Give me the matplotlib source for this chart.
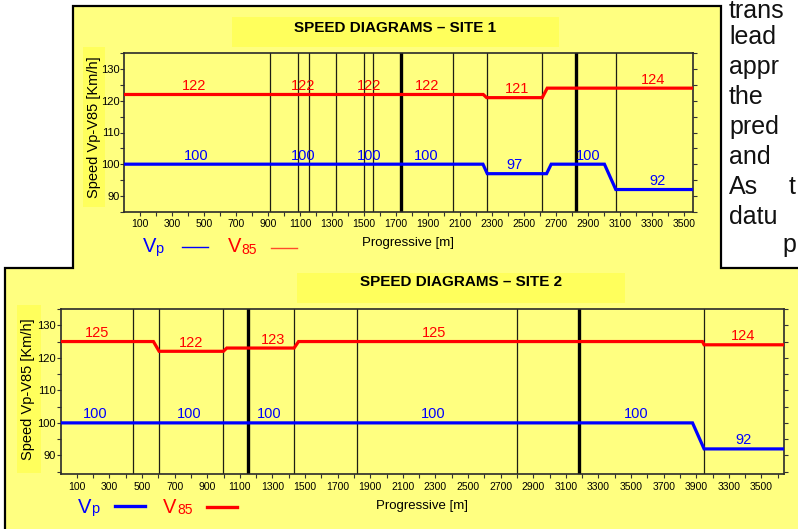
import matplotlib
matplotlib.use('Agg')
import matplotlib.pyplot as plt
from matplotlib.patches import Rectangle, Polygon
from matplotlib.lines import Line2D
from matplotlib.ticker import FixedLocator, MultipleLocator

# ---------------- data ----------------
# Site 1
s1_v85_x = [0, 2246, 2267, 2615, 2646, 3560]
s1_v85 = [122, 122, 121, 121, 124, 124]
s1_vp_x = [0, 2244, 2271, 2642, 2671, 3004, 3075, 3560]
s1_vp = [100, 100, 97, 97, 100, 100, 92, 92]
s1_thin = [912, 1087, 1156, 1327, 1500, 1556, 2059, 2271, 2615, 3075]
s1_thick = [1729, 2827]
s1_v85_lab_x = [437, 1121, 1531, 1896, 2459, 3306]
s1_v85_lab = [122, 122, 122, 122, 121, 124]
s1_vp_lab_x = [448, 1121, 1531, 1890, 2444, 2900, 3334]
s1_vp_lab = [100, 100, 100, 100, 97, 100, 92]
s1_xtick_pos = list(range(100, 3501, 200))
s1_xtick_lab = [str(v) for v in range(100, 3501, 200)]
s1_xlim = (0, 3560)
s1_ylim = (85, 135)

# Site 2
s2_v85_x = [0, 570, 605, 999, 1020, 1433, 1460, 3938, 3948, 4440]
s2_v85 = [125, 125, 122, 122, 123, 123, 125, 125, 124, 124]
s2_vp_x = [0, 3877, 3948, 4440]
s2_vp = [100, 100, 92, 92]
s2_thin = [447, 605, 999, 1435, 1821, 2799, 3948]
s2_thick = [1153, 3183]
s2_v85_lab_x = [223, 801, 1302, 2294, 4186]
s2_v85_lab = [125, 122, 123, 125, 124]
s2_vp_lab_x = [212, 789, 1280, 2288, 3531, 4190]
s2_vp_lab = [100, 100, 100, 100, 100, 92]
s2_xtick_pos = list(range(100, 4301, 200))
s2_xtick_lab = ['100', '300', '500', '700', '900', '1100', '1300', '1500', '1700',
                '1900', '2100', '2300', '2500', '2700', '2900', '3100', '3300',
                '3500', '3700', '3900', '3300', '3500']
s2_xlim = (0, 4440)
s2_ylim = (84.2, 135)

yticks = [90, 100, 110, 120, 130]
side_text = ["trans", "lead", "appr", "the", "pred", "and", "As", "datu"]

# ---------------- style ----------------
PANEL = '#FFFF80'
BOX = '#FFFF5C'
BLUE = '#0000FF'
RED = '#FF0000'

plt.rcParams['font.family'] = ['Liberation Sans', 'DejaVu Sans']

W, H = 798, 529
fig = plt.figure(figsize=(W / 100, H / 100), dpi=100)
fig.patch.set_facecolor('white')


def fx(x):
    return x / W


def fy(y):
    return 1 - y / H


# background panels (one outline for both)
panel = Polygon([[fx(73.3), fy(268)], [fx(73.3), fy(5.5)], [fx(720.7), fy(5.5)],
                 [fx(720.7), fy(267.5)], [fx(810), fy(267.5)], [fx(810), fy(540)],
                 [fx(5), fy(540)], [fx(5), fy(268)]], closed=True,
                transform=fig.transFigure, facecolor=PANEL, edgecolor='black',
                lw=1.6, zorder=-5)
fig.patches.append(panel)


def add_box(x0, y0, x1, y1):
    r = Rectangle((fx(x0), fy(y1)), (x1 - x0) / W, (y1 - y0) / H,
                  transform=fig.transFigure, facecolor=BOX, edgecolor='none',
                  zorder=-4)
    fig.patches.append(r)


def draw_site(ax, v85x, v85, vpx, vp, thin, thick, v85lx, v85l, vplx, vpl,
              xtp, xtl, xlim, ylim):
    ax.set_facecolor(PANEL)
    for x in thin:
        ax.axvline(x, color='#1e1e14', lw=0.9, zorder=1)
    for x in thick:
        ax.axvline(x, color='black', lw=2.4, zorder=1)
    ax.plot(v85x, v85, color=RED, lw=2.3, zorder=3, solid_joinstyle='miter')
    ax.plot(vpx, vp, color=BLUE, lw=2.3, zorder=3, solid_joinstyle='miter')
    for x, v in zip(v85lx, v85l):
        ax.text(x, v + 2.6, str(v), color=RED, fontsize=10.5, ha='center',
                va='center', zorder=4)
    for x, v in zip(vplx, vpl):
        ax.text(x, v + 2.6, str(v), color=BLUE, fontsize=10.5, ha='center',
                va='center', zorder=4)
    ax.set_xlim(*xlim)
    ax.set_ylim(*ylim)
    ax.set_xticks(xtp)
    ax.set_xticklabels(xtl, fontsize=7.5)
    minor = [v for v in range(200, int(xlim[1]) + 1, 200)]
    ax.xaxis.set_minor_locator(FixedLocator(minor))
    ax.set_yticks(yticks)
    ax.set_yticklabels([str(v) for v in yticks], fontsize=8)
    ax.yaxis.set_minor_locator(MultipleLocator(5))
    ax.tick_params(which='both', direction='out', length=3, width=0.8,
                   color='#333333', right=True, top=False)
    ax.tick_params(axis='x', which='both', pad=2.5)
    ax.tick_params(axis='y', which='both', pad=0.5)
    for s in ax.spines.values():
        s.set_color('#2a2a2a')
        s.set_linewidth(1.2)


ax1 = fig.add_axes([fx(124.3), fy(211.7), (693.3 - 124.3) / W, (211.7 - 53.3) / H])
draw_site(ax1, s1_v85_x, s1_v85, s1_vp_x, s1_vp, s1_thin, s1_thick,
          s1_v85_lab_x, s1_v85_lab, s1_vp_lab_x, s1_vp_lab,
          s1_xtick_pos, s1_xtick_lab, s1_xlim, s1_ylim)

ax2 = fig.add_axes([fx(60.5), fy(474.3), (784.3 - 60.5) / W, (474.3 - 309) / H])
draw_site(ax2, s2_v85_x, s2_v85, s2_vp_x, s2_vp, s2_thin, s2_thick,
          s2_v85_lab_x, s2_v85_lab, s2_vp_lab_x, s2_vp_lab,
          s2_xtick_pos, s2_xtick_lab, s2_xlim, s2_ylim)

# title boxes and titles
add_box(231.7, 16.7, 559.3, 46.7)
fig.text(fx(395.5), fy(28), 'SPEED DIAGRAMS – SITE 1', ha='center', va='center',
         fontsize=11, fontweight='bold')
add_box(296.7, 273, 625, 303)
fig.text(fx(461), fy(282.5), 'SPEED DIAGRAMS – SITE 2', ha='center', va='center',
         fontsize=11, fontweight='bold')

# y-label boxes and labels
add_box(83, 46.7, 105, 206.7)
fig.text(fx(94), fy(127), 'Speed Vp-V85 [Km/h]', rotation=90, ha='center',
         va='center', fontsize=10.5)
add_box(17.3, 305, 41, 472.7)
fig.text(fx(28.5), fy(389), 'Speed Vp-V85 [Km/h]', rotation=90, ha='center',
         va='center', fontsize=10.5)

# x labels
fig.text(fx(407.5), fy(243), 'Progressive [m]', ha='center', va='center', fontsize=9.5)
fig.text(fx(422), fy(506), 'Progressive [m]', ha='center', va='center', fontsize=9.5)


# legends
def legend(xv, yb, xp, xv2, x85, lx1, lx2, ly, lw, llen, redcol):
    fig.text(fx(xv), fy(yb), 'V', color=BLUE, fontsize=14.5, ha='left', va='baseline')
    fig.text(fx(xp), fy(yb + 0.8), 'p', color=BLUE, fontsize=10.5, ha='left', va='baseline')
    fig.add_artist(Line2D([fx(lx1), fx(lx1 + llen)], [fy(ly), fy(ly)],
                          transform=fig.transFigure, color=BLUE, lw=lw))
    fig.text(fx(xv2), fy(yb), 'V', color=RED, fontsize=14.5, ha='left', va='baseline')
    fig.text(fx(x85), fy(yb + 1.8), '85', color=RED, fontsize=10, ha='left', va='baseline')
    fig.add_artist(Line2D([fx(lx2), fx(lx2 + llen)], [fy(ly + 0.8), fy(ly + 0.8)],
                          transform=fig.transFigure, color=redcol, lw=lw))


legend(142.7, 252.3, 155.3, 228.3, 241.3, 181.7, 270.7, 247.3, 1.0, 26, '#FF4A2A')
legend(77.7, 512.7, 91.0, 163.3, 177.0, 115, 207, 506, 2.4, 30, RED)

# text of the page at the right
for k, t in enumerate(side_text):
    yb = 14 + 30 * k
    if k == 0:
        yb = 18
    fig.text(fx(729), fy(yb), t, fontsize=18, color='#111111',
             ha='left', va='baseline')
fig.text(fx(789), fy(194), 't', fontsize=18, color='#111111', ha='left', va='baseline')
fig.text(fx(782), fy(252), 'p', fontsize=18, color='#111111', ha='left', va='baseline')

fig.savefig('out.png', dpi=100, facecolor='white')
